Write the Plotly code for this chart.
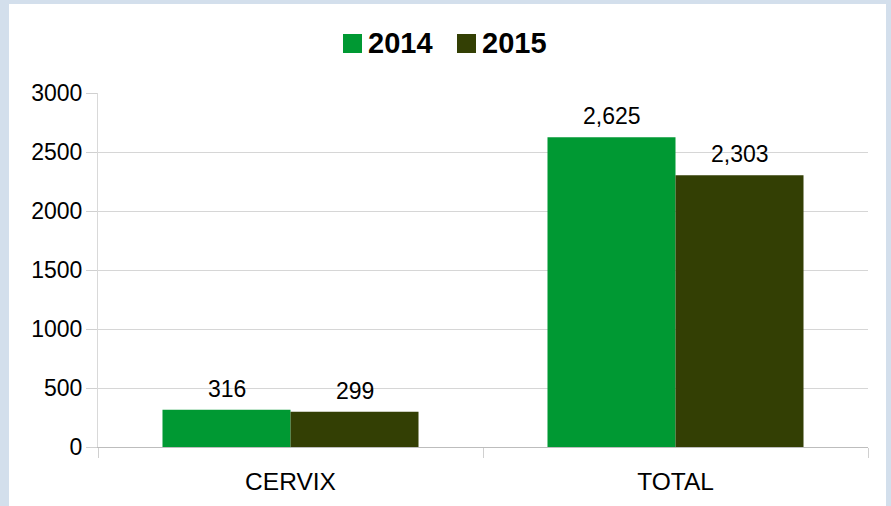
import plotly.graph_objects as go

categories = ["CERVIX", "TOTAL"]
series_names = ["2014", "2015"]
values_2014 = [316, 2625]
values_2015 = [299, 2303]
tick_vals = [0, 500, 1000, 1500, 2000, 2500, 3000]

colors = ["#009933", "#333f04"]
series_values = [values_2014, values_2015]

L, R, T, B = 98, 23, 93, 59
W, H = 891, 506
pw, ph = W - L - R, H - T - B
bar_px = 128

def px_x(x):
    return (x - L) / pw

def px_y(y):
    return (H - B - y) / ph

fig = go.Figure()
annotations = []
for i, (name, vals, col) in enumerate(zip(series_names, series_values, colors)):
    fig.add_trace(go.Bar(
        x=categories, y=vals, name=name, marker=dict(color=col, line=dict(width=0)),
        showlegend=False,
    ))
    for c, v in zip(categories, vals):
        annotations.append(dict(x=c, y=v, xref="x", yref="y", text=f"{v:,}", showarrow=False,
                                xshift=(i - 0.5) * bar_px, yanchor="bottom", yshift=6,
                                font=dict(family="Liberation Sans", size=23, color="#000000")))

# manual legend (large square swatches)
legend_sq = [(343, 362), (457, 476)]
shapes = [dict(type="rect", xref="paper", yref="paper", layer="below",
               x0=px_x(9), x1=px_x(886), y0=-0.3, y1=px_y(4),
               fillcolor="#ffffff", line=dict(width=0))]
for (x0, x1), name, col in zip(legend_sq, series_names, colors):
    shapes.append(dict(type="rect", xref="paper", yref="paper",
                       x0=px_x(x0), x1=px_x(x1), y0=px_y(53), y1=px_y(34),
                       fillcolor=col, line=dict(width=0)))
    annotations.append(dict(x=px_x(x1 + 4), y=px_y(43.5), xref="paper", yref="paper", text=f"<b>{name}</b>",
                            showarrow=False, xanchor="left", yanchor="middle",
                            font=dict(family="Liberation Sans", size=29, color="#000000")))

fig.update_layout(
    width=W, height=H,
    margin=dict(l=L, r=R, t=T, b=B, autoexpand=False),
    paper_bgcolor="#d3dfec",
    plot_bgcolor="rgba(0,0,0,0)",
    barmode="group", bargap=0.335, bargroupgap=0,
    font=dict(family="Liberation Sans", size=22, color="#000000"),
    showlegend=False,
    shapes=shapes,
    annotations=annotations,
)
fig.update_yaxes(range=[0, 3000], tickvals=tick_vals, showgrid=True, gridcolor="#d6d6d6",
                 ticks="outside", ticklen=11, tickcolor="#d0d0d0", zeroline=False, automargin=False,
                 showline=True, linecolor="#d9d9d9", tickfont=dict(size=23), ticklabelstandoff=-1)
fig.update_xaxes(showline=True, linecolor="#bdbdbd", ticks="outside", ticklen=10, tickcolor="#d0d0d0",
                 tickson="boundaries", tickfont=dict(size=24.5), showgrid=False, automargin=False,
                 ticklabelstandoff=13)

fig.write_html("out.html", config={"displayModeBar": False},
               post_script="document.body.style.margin='0';document.body.style.overflow='hidden';")
